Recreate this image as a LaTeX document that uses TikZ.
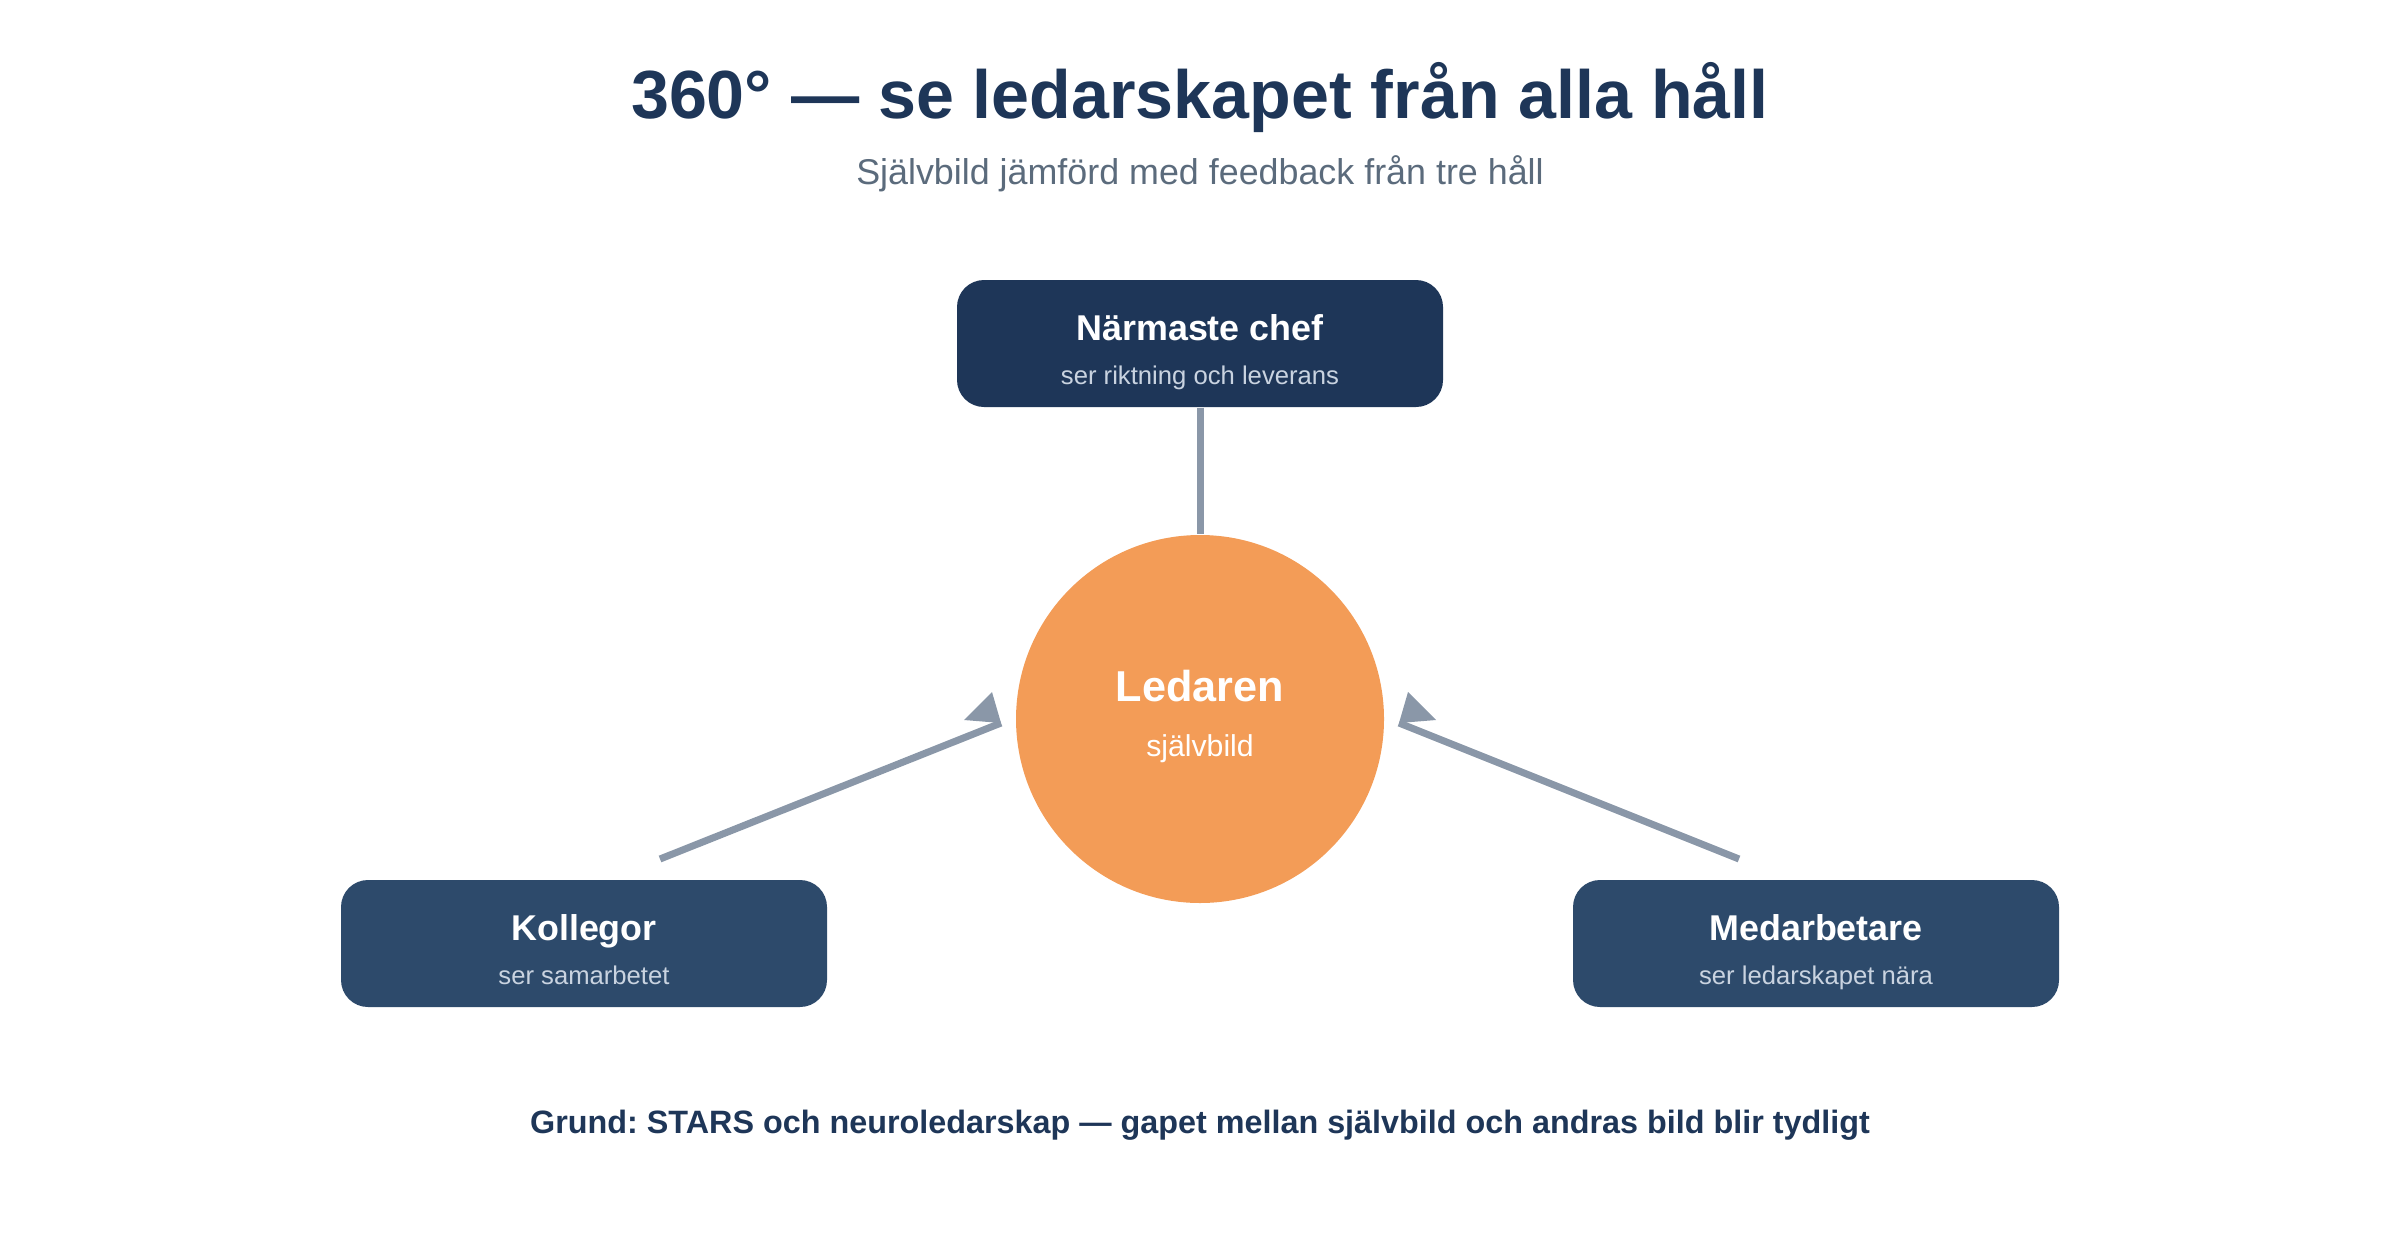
\documentclass[tikz,border=0pt]{standalone}
\usepackage{fontspec}
\setmainfont{Liberation Sans}
\frenchspacing
\usetikzlibrary{calc,positioning}
\definecolor{navy}{HTML}{1E3658}
\definecolor{slate}{HTML}{2D4A6B}
\definecolor{linegray}{HTML}{8A97A8}
\definecolor{ledorange}{HTML}{F39C57}
\definecolor{subgray}{HTML}{5B6B7C}
\definecolor{lightblue}{HTML}{C9D3E0}
\tikzset{
  box/.style={rounded corners=0.27cm, minimum width=4.86cm, minimum height=1.27cm, inner sep=0pt},
  boxtitle/.style={anchor=base, text=white, font=\fontsize{10.2}{12}\selectfont\bfseries},
  boxsub/.style={anchor=base, text=lightblue, font=\fontsize{7.3}{9}\selectfont},
  conn/.style={draw=linegray, line width=2pt},
}

\begin{document}
\begin{tikzpicture}
\useasboundingbox (0,0) rectangle (24,12.4);
\node[anchor=base, text=navy, font=\fontsize{19.4}{23}\selectfont\bfseries] (title) at (12,11.22) {360° — se ledarskapet från alla håll};
\node[anchor=base, text=subgray, font=\fontsize{10.2}{12}\selectfont] (subtitle) at (12,10.56) {Självbild jämförd med feedback från tre håll};

\node[box, fill=navy] (chef) at (12,8.965) {};
\node[boxtitle] (chefT) at ($(chef.center)+(0,0.035)$) {Närmaste chef};
\node[boxsub] (chefS) at ($(chef.center)+(0,-0.405)$) {ser riktning och leverans};

\node[circle, fill=ledorange, minimum size=3.68cm, inner sep=0pt] (ledaren) at (12,5.21) {};
\node[anchor=base, text=white, font=\fontsize{12.3}{14}\selectfont\bfseries] (ledarenT) at (12,5.39) {Ledaren};
\node[anchor=base, text=white, font=\fontsize{8.6}{10}\selectfont] (ledarenS) at (12,4.84) {självbild};

\node[box, fill=slate] (kollegor) at (5.84,2.965) {};
\node[boxtitle] (kollegorT) at ($(kollegor.center)+(0,0.035)$) {Kollegor};
\node[boxsub] (kollegorS) at ($(kollegor.center)+(0,-0.405)$) {ser samarbetet};

\node[box, fill=slate] (medarb) at (18.16,2.965) {};
\node[boxtitle] (medarbT) at ($(medarb.center)+(0,0.035)$) {Medarbetare};
\node[boxsub] (medarbS) at ($(medarb.center)+(0,-0.405)$) {ser ledarskapet nära};

\draw[conn] (chef.south) -- (ledaren.north);

\coordinate (kolStart) at (6.60,3.81);
\coordinate (kolTip) at (10.01,5.17);
\draw[conn] (kolStart) -- (kolTip);
\fill[linegray] (kolTip) -- ++(-0.09,0.31) -- ++(-0.28,-0.28) -- cycle;

\coordinate (medStart) at (17.39,3.81);
\coordinate (medTip) at (13.99,5.17);
\draw[conn] (medStart) -- (medTip);
\fill[linegray] (medTip) -- ++(0.09,0.31) -- ++(0.28,-0.28) -- cycle;

\node[anchor=base, text=navy, font=\fontsize{9.2}{11}\selectfont\bfseries] (footer) at (12,1.07) {Grund: STARS och neuroledarskap — gapet mellan självbild och andras bild blir tydligt};
\end{tikzpicture}
\end{document}
